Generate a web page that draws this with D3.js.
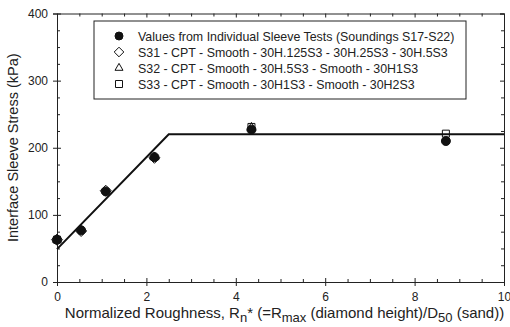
<!DOCTYPE html>
<html>
<head>
<meta charset="utf-8">
<script src="https://cdn.jsdelivr.net/npm/d3@7"></script>
<style>
body { margin: 0; background: #fff; }
text { font-family: "Liberation Sans", Arial, sans-serif; fill: #222; }
</style>
</head>
<body>
<svg id="chart" width="510" height="327"></svg>
<script>
// individual sleeve tests (filled circles)
var sleeveX = [0, 0.54, 1.09, 2.18, 4.35, 8.7];
var sleeveY = [63, 77, 135, 186, 227, 210];
// S31 (diamonds)
var s31X = [0, 0.54, 1.09, 2.18];
var s31Y = [63, 76, 136, 185];
// S32 (triangles)
var s32X = [0, 2.18, 4.35];
var s32Y = [63, 186, 230];
// S33 (squares)
var s33X = [0, 4.35, 8.7];
var s33Y = [63, 231, 221];
// bilinear fit
var fitX = [0, 2.5, 10];
var fitY = [49, 220, 220];

var xTicks = [0, 2, 4, 6, 8, 10];
var yTicks = [0, 100, 200, 300, 400];
var legendLabels = [
	"Values from Individual Sleeve Tests (Soundings S17-S22)",
	"S31 - CPT - Smooth - 30H.125S3 - 30H.25S3 - 30H.5S3",
	"S32 - CPT - Smooth - 30H.5S3 - Smooth - 30H1S3",
	"S33 - CPT - Smooth - 30H1S3 - Smooth - 30H2S3"
];

var svg = d3.select("#chart");
var plotLeft = 57, plotRight = 504, plotTop = 13.5, plotBottom = 282;

var x = d3.scaleLinear().domain([0, 10]).range([plotLeft, plotRight]);
var y = d3.scaleLinear().domain([0, 400]).range([plotBottom, plotTop]);

var minorX = d3.range(0, 10.01, 0.5).filter(function(d) { return d % 2 !== 0; });
var minorY = d3.range(0, 401, 25).filter(function(d) { return d % 100 !== 0; });

function styleAxis(g) {
	g.select(".domain").attr("stroke", "#222").attr("stroke-width", 1);
	g.selectAll(".tick line").attr("stroke", "#222");
}

// bottom axis: majors cross the line, minors point inward
var gx = svg.append("g").attr("transform", "translate(0," + plotBottom + ")")
	.call(d3.axisBottom(x).tickValues(xTicks).tickSize(4).tickPadding(6).tickFormat(d3.format("d")))
	.call(styleAxis);
gx.selectAll(".tick line").attr("y1", -4).attr("y2", 4);
gx.selectAll(".tick text").style("font-size", "12px").attr("fill", "#222");
svg.append("g").attr("transform", "translate(0," + plotBottom + ")")
	.call(d3.axisBottom(x).tickValues(minorX).tickSize(-3).tickFormat(""))
	.call(styleAxis).select(".domain").remove();

// left axis
var gy = svg.append("g").attr("transform", "translate(" + plotLeft + ",0)")
	.call(d3.axisLeft(y).tickValues(yTicks).tickSize(4).tickPadding(5))
	.call(styleAxis);
gy.selectAll(".tick line").attr("x1", -4).attr("x2", 4);
gy.selectAll(".tick text").style("font-size", "12px").attr("fill", "#222");
svg.append("g").attr("transform", "translate(" + plotLeft + ",0)")
	.call(d3.axisLeft(y).tickValues(minorY).tickSize(-3).tickFormat(""))
	.call(styleAxis).select(".domain").remove();

// top axis, ticks inward
svg.append("g").attr("transform", "translate(0," + plotTop + ")")
	.call(d3.axisTop(x).tickValues(xTicks).tickSize(-4).tickFormat(""))
	.call(styleAxis);
svg.append("g").attr("transform", "translate(0," + plotTop + ")")
	.call(d3.axisTop(x).tickValues(minorX).tickSize(-3).tickFormat(""))
	.call(styleAxis).select(".domain").remove();

// right axis, ticks inward
svg.append("g").attr("transform", "translate(" + plotRight + ",0)")
	.call(d3.axisRight(y).tickValues(yTicks).tickSize(-4).tickFormat(""))
	.call(styleAxis);
svg.append("g").attr("transform", "translate(" + plotRight + ",0)")
	.call(d3.axisRight(y).tickValues(minorY).tickSize(-3).tickFormat(""))
	.call(styleAxis).select(".domain").remove();

// fit line
var line = d3.line()
	.x(function(d) { return x(d[0]); })
	.y(function(d) { return y(d[1]); });
svg.append("path")
	.datum(d3.zip(fitX, fitY))
	.attr("d", line)
	.attr("fill", "none")
	.attr("stroke", "#111")
	.attr("stroke-width", 2);

// s = half-width of the marker
function symbolPath(kind, s) {
	if (kind === "diamond") // square diamond (d3's own is too tall)
		return "M0," + (-s) + "L" + s + ",0L0," + s + "L" + (-s) + ",0Z";
	if (kind === "circle") return d3.symbol().type(d3.symbolCircle).size(Math.PI * s * s)();
	if (kind === "triangle") // equilateral, side 2s
		return d3.symbol().type(d3.symbolTriangle).size(Math.sqrt(3) * s * s)();
	return d3.symbol().type(d3.symbolSquare).size(4 * s * s)();
}

// markers
function drawSeries(xs, ys, kind, s, filled) {
	svg.append("g").selectAll("path")
		.data(d3.zip(xs, ys)).enter().append("path")
		.attr("transform", function(d) {
			return "translate(" + x(d[0]) + "," + y(d[1]) + ")";
		})
		.attr("d", symbolPath(kind, s))
		.attr("fill", filled ? "#111" : "none")
		.attr("stroke", "#111")
		.attr("stroke-width", 1);
}

drawSeries(sleeveX, sleeveY, "circle", 4.5, true);
drawSeries(s31X, s31Y, "diamond", 5.5, false);
drawSeries(s32X, s32Y, "triangle", 4.5, false);
drawSeries(s33X, s33Y, "square", 3.5, false);

// legend
var legend = svg.append("g");
legend.append("rect")
	.attr("x", 94).attr("y", 21)
	.attr("width", 372).attr("height", 78)
	.attr("fill", "#fff")
	.attr("stroke", "#222")
	.attr("stroke-width", 1);

var legendSymbols = [
	["circle", 4, true],
	["diamond", 4.8, false],
	["triangle", 4, false],
	["square", 3.5, false]
];

legendLabels.forEach(function(label, i) {
	var ly = 36 + i * 16;
	legend.append("path")
		.attr("transform", "translate(119," + ly + ")")
		.attr("d", symbolPath(legendSymbols[i][0], legendSymbols[i][1]))
		.attr("fill", legendSymbols[i][2] ? "#111" : "none")
		.attr("stroke", "#111");
	legend.append("text")
		.attr("x", 138).attr("y", ly + 4.5)
		.style("font-size", "12.4px")
		.text(label);
});

// axis titles
svg.append("text")
	.attr("transform", "translate(18," + ((plotTop + plotBottom) / 2) + ") rotate(-90)")
	.attr("text-anchor", "middle")
	.style("font-size", "14.5px")
	.text("Interface Sleeve Stress (kPa)");

var xt = svg.append("text")
	.attr("x", (plotLeft + plotRight) / 2 + 4).attr("y", 318)
	.attr("text-anchor", "middle")
	.style("font-size", "15px");
xt.append("tspan").text("Normalized Roughness, R");
xt.append("tspan").attr("baseline-shift", "-30%").style("font-size", "13px").text("n");
xt.append("tspan").text("* (=R");
xt.append("tspan").attr("baseline-shift", "-30%").style("font-size", "13px").text("max");
xt.append("tspan").text(" (diamond height)/D");
xt.append("tspan").attr("baseline-shift", "-30%").style("font-size", "13px").text("50");
xt.append("tspan").text(" (sand))");
</script>
</body>
</html>
